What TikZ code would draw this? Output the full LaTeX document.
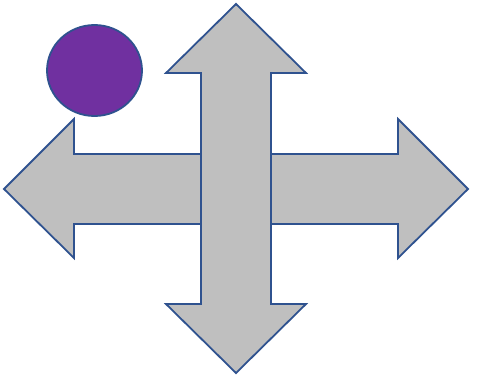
\documentclass[tikz,border=0pt]{standalone}
\usepackage{tikz}

\begin{document}
\begin{tikzpicture}[x=1pt,y=-1pt]
\definecolor{gry}{RGB}{191,191,191}
\definecolor{edg}{RGB}{47,82,143}
\definecolor{prp}{RGB}{112,48,160}
\tikzset{arw/.style={fill=gry,draw=edg,line width=1.8pt,line join=miter}}
\useasboundingbox (0,0) rectangle (479,381);
%% --- horizontal double arrow (behind) ---
\draw[arw] (4,189) -- (74,119) -- (74,154) -- (398,154) -- (398,119) -- (468,189)
  -- (398,258) -- (398,224) -- (74,224) -- (74,258) -- cycle;
%% --- vertical double arrow (on top) ---
\draw[arw] (236,4) -- (306,73) -- (271,73) -- (271,304) -- (306,304) -- (236,373)
  -- (166,304) -- (201,304) -- (201,73) -- (166,73) -- cycle;
%% --- ball ---
\draw[fill=prp,draw=edg,line width=1.8pt] (94.5,70.5) ellipse (47.5 and 45.5);
\end{tikzpicture}
\end{document}
